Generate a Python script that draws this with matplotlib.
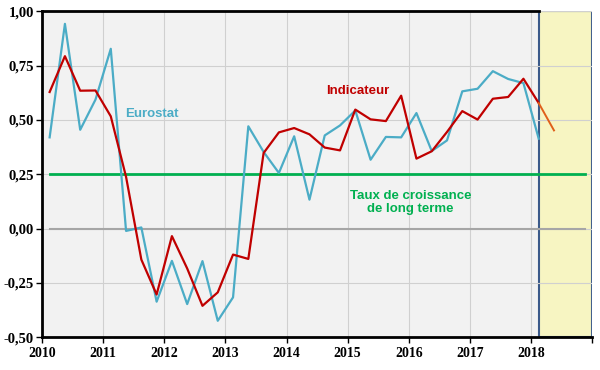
import matplotlib
matplotlib.use('Agg')
import matplotlib.pyplot as plt
import numpy as np

# quarterly values, 2010Q1 onwards
eurostat = [0.42, 0.943, 0.455, 0.594,
            0.828, -0.011, 0.005, -0.337,
            -0.149, -0.348, -0.150, -0.425,
            -0.317, 0.471, 0.353, 0.256,
            0.425, 0.133, 0.429, 0.475,
            0.544, 0.317, 0.422, 0.420,
            0.532, 0.357, 0.406, 0.632,
            0.644, 0.725, 0.689, 0.670,
            0.414]
indicateur = [0.629, 0.794, 0.635, 0.636,
              0.517, 0.238, -0.143, -0.304,
              -0.035, -0.184, -0.356, -0.294,
              -0.120, -0.140, 0.348, 0.443,
              0.463, 0.434, 0.373, 0.360,
              0.548, 0.503, 0.495, 0.612,
              0.322, 0.356, 0.445, 0.541,
              0.502, 0.598, 0.606, 0.690,
              0.578, 0.452]
long_term = 0.25
start_year = 2010
years = list(range(2010, 2020))
yticks = [-0.50, -0.25, 0.00, 0.25, 0.50, 0.75, 1.00]

t_euro = start_year + (np.arange(len(eurostat)) + 0.5) / 4
t_ind = start_year + (np.arange(len(indicateur)) + 0.5) / 4
fc_start = t_euro[-1]
t_line = [t_euro[0], 2018.875]

fig = plt.figure(figsize=(6, 3.7), dpi=100)
ax = fig.add_axes([0.07, 0.089, 0.917, 0.88])
ax.set_facecolor('#F2F2F2')

ax.axvspan(fc_start, years[-1], facecolor='#F7F5C2', edgecolor='#3B5A8A',
           linewidth=1.5, zorder=0)

ax.set_axisbelow(True)
ax.grid(True, color='#D0D0D0', linewidth=0.8)

ax.plot(t_line, [0, 0], color='#A6A6A6', linewidth=1.5, zorder=1)
ax.plot(t_line, [long_term, long_term], color='#00B050', linewidth=2, zorder=2)

ax.plot(t_euro, eurostat, color='#4BACC6', linewidth=1.6, zorder=3)
n_hist = len(eurostat)
ax.plot(t_ind[:n_hist], indicateur[:n_hist], color='#C00000', linewidth=1.6, zorder=4)
ax.plot(t_ind[n_hist - 1:], indicateur[n_hist - 1:], color='#E0601A', linewidth=1.4, zorder=4)

ax.plot([years[0], fc_start], [1.0, 1.0], color='black', linewidth=2,
        clip_on=False, zorder=5)

ax.set_xlim(years[0], years[-1])
ax.set_ylim(-0.5, 1.0)
ax.set_xticks(years)
ax.set_xticklabels([str(y) if y < 2019 else '' for y in years])
ax.set_yticks(yticks)
ax.set_yticklabels([f'{v:.2f}'.replace('.', ',') for v in yticks])

for s in ['top', 'right']:
    ax.spines[s].set_visible(False)
for s in ['left', 'bottom']:
    ax.spines[s].set_linewidth(2)
ax.tick_params(axis='y', length=4, width=1, labelsize=10.5, pad=2)
ax.tick_params(axis='x', length=4, width=1, labelsize=10, pad=3)
for lab in ax.get_xticklabels() + ax.get_yticklabels():
    lab.set_fontfamily('Liberation Serif')
    lab.set_fontweight('bold')

ax.text(2011.79, 0.527, 'Eurostat', color='#4BACC6', fontsize=9.5,
        fontweight='bold', family='Liberation Sans', ha='center', va='center')
ax.text(2015.16, 0.633, 'Indicateur', color='#C00000', fontsize=9.5,
        fontweight='bold', family='Liberation Sans', ha='center', va='center')
ax.text(2016.03, 0.12, 'Taux de croissance\nde long terme', color='#00B050',
        fontsize=9.5, fontweight='bold', family='Liberation Sans',
        ha='center', va='center', linespacing=1.1)

fig.savefig('out.png')
